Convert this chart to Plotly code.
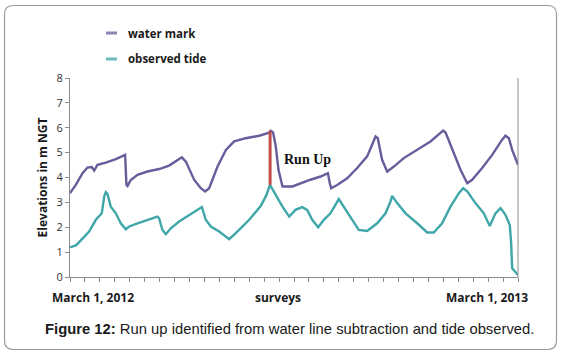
import plotly.graph_objects as go

# ---- data (survey index 0..300, elevations in m NGT) ----
water_t = [0, 3.9, 8.4, 11.7, 14.6, 16.2, 18.4, 24, 30.7, 36.3, 36.9, 37.8, 38.5, 40.7, 45.2, 51.9, 59.7,
           66.4, 72, 74.9, 77.6, 83.1, 87.6, 90.5, 93.2, 98.8, 104.4, 109.9, 117.7, 126.7, 132.9, 134.5,
           136, 137.8, 139.6, 142.3, 149, 154.4, 161, 167.8, 172.7, 174, 174.9, 178.9, 185.6, 192.3,
           199, 202.3, 204.6, 206.1, 209, 212.4, 216.9, 223.5, 232.5, 241.4, 248.1, 249.9, 251.5, 257,
           261.5, 266, 269.3, 276, 282.7, 289.4, 291.6, 293.9, 296.1, 300]
water_v = [3.37, 3.7, 4.17, 4.4, 4.42, 4.28, 4.51, 4.6, 4.74, 4.9, 4.91, 3.7, 3.66, 3.9, 4.11, 4.24, 4.34,
           4.48, 4.71, 4.81, 4.64, 3.91, 3.57, 3.44, 3.57, 4.44, 5.11, 5.45, 5.58, 5.68, 5.79, 5.88,
           5.81, 5.25, 4.31, 3.64, 3.64, 3.77, 3.91, 4.04, 4.17, 3.77, 3.57, 3.7, 3.97, 4.38,
           4.85, 5.32, 5.65, 5.58, 4.71, 4.24, 4.44, 4.78, 5.11, 5.45, 5.79, 5.89, 5.81, 4.98,
           4.31, 3.77, 3.91, 4.38, 4.91, 5.52, 5.68, 5.58, 5.11, 4.51]

tide_t = [0, 1.7, 4.4, 8.4, 12.8, 17.3, 21.3, 22.9, 24, 25.1, 27.3, 30.7, 34, 37.4, 39.6, 45.2, 53, 58.6,
          59.7, 61.9, 64.2, 67.5, 73.1, 79.8, 86.5, 88.3, 90.9, 94.3, 99.9, 106.6, 111, 120, 127.8,
          131.6, 133.9, 137.8, 142.3, 146.8, 151, 155.5, 158.8, 162.2, 166.2, 170, 174.4, 180, 183.4,
          189, 193.4, 199, 205.7, 211.3, 214.6, 215.7, 219.1, 224.7, 232.5, 239.2, 243.6, 249.2,
          254.8, 260.4, 263.3, 266, 271.5, 277.1, 281.1, 284.9, 288.3, 291.6, 294.5, 295.4, 296.1,
          298.3, 300]
tide_v = [1.2, 1.22, 1.29, 1.56, 1.83, 2.3, 2.56, 3.23, 3.41, 3.34, 2.83, 2.56, 2.16, 1.92, 2.03, 2.16, 2.32, 2.43,
          2.36, 1.89, 1.72, 1.96, 2.23, 2.5, 2.77, 2.81, 2.3, 2.03, 1.83, 1.52, 1.76, 2.3, 2.86,
          3.3, 3.7, 3.3, 2.83, 2.43, 2.7, 2.81, 2.7, 2.3, 2.0, 2.3, 2.56, 3.13, 2.83,
          2.3, 1.89, 1.85, 2.16, 2.56, 3.03, 3.26, 2.97, 2.56, 2.16, 1.79, 1.79, 2.16,
          2.83, 3.37, 3.57, 3.44, 2.97, 2.56, 2.05, 2.56, 2.77, 2.5, 2.09, 1.36, 0.35,
          0.19, 0.08]

runup_t = [134, 134]
runup_v = [3.7, 5.88]

series_names = ["water mark", "observed tide"]
x_labels = ["March 1, 2012", "surveys", "March 1, 2013"]
x_label_pos = [15.5, 139, 279]
y_title = "Elevations in m NGT"
caption_bold = "Figure 12:"
caption_text = " Run up identified from water line subtraction and tide observed."

PURPLE = "#6a5b9b"
TEAL = "#3fa6a9"

fig = go.Figure()
fig.add_trace(go.Scatter(x=water_t, y=water_v, mode="lines", name=series_names[0],
                         line=dict(color=PURPLE, width=2.4), showlegend=False))
fig.add_trace(go.Scatter(x=tide_t, y=tide_v, mode="lines", name=series_names[1],
                         line=dict(color=TEAL, width=2.4), showlegend=False))
fig.add_trace(go.Scatter(x=runup_t, y=runup_v, mode="lines", name="Run Up",
                         line=dict(color="#c0504d", width=3), showlegend=False))

W, H = 561, 355
L, R, T, B = 70, 43, 78, 78
pw, ph = W - L - R, H - T - B


def px(xp):
    return (xp - L) / pw


def py(yp):
    return 1 - (yp - T) / ph


shapes = []
# outer rounded frame
x0, x1, y0, y1, r = 4.5, 556.5, 5.5, 349.5, 9
path = (f"M {px(x0 + r)},{py(y0)} L {px(x1 - r)},{py(y0)} Q {px(x1)},{py(y0)} {px(x1)},{py(y0 + r)} "
        f"L {px(x1)},{py(y1 - r)} Q {px(x1)},{py(y1)} {px(x1 - r)},{py(y1)} "
        f"L {px(x0 + r)},{py(y1)} Q {px(x0)},{py(y1)} {px(x0)},{py(y1 - r)} "
        f"L {px(x0)},{py(y0 + r)} Q {px(x0)},{py(y0)} {px(x0 + r)},{py(y0)} Z")
shapes.append(dict(type="path", xref="paper", yref="paper", path=path,
                   line=dict(color="#9a9a9a", width=1.2), layer="below"))
# right border of plot area
shapes.append(dict(type="line", xref="paper", yref="paper", x0=1, x1=1, y0=0, y1=1,
                   line=dict(color="#8c8c8c", width=1)))
# legend samples
legend_y = [33, 59]
for c, yy in zip([PURPLE, TEAL], legend_y):
    shapes.append(dict(type="line", xref="paper", yref="paper", x0=px(106), x1=px(117),
                       y0=py(yy), y1=py(yy), line=dict(color=c, width=3), opacity=0.75))

annotations = []
for name, yy in zip(series_names, legend_y):
    annotations.append(dict(xref="paper", yref="paper", x=px(126), y=py(yy), text=f"<b>{name}</b>",
                            showarrow=False, xanchor="left", yanchor="middle",
                            font=dict(family="Open Sans", size=11.5, color="#1a1a1a")))
for lab, xp in zip(x_labels, x_label_pos):
    annotations.append(dict(xref="x", yref="paper", x=xp, y=py(297), text=f"<b>{lab}</b>",
                            showarrow=False, xanchor="center", yanchor="middle",
                            font=dict(family="Open Sans", size=12, color="#1a1a1a")))
annotations.append(dict(xref="paper", yref="paper", x=px(307), y=py(159), text="<b>Run Up</b>",
                        showarrow=False, xanchor="center", yanchor="middle",
                        font=dict(family="Liberation Serif", size=14, color="#111111")))
annotations.append(dict(xref="paper", yref="paper", x=px(289), y=py(329),
                        text=f"<b>{caption_bold}</b>{caption_text}",
                        showarrow=False, xanchor="center", yanchor="middle",
                        font=dict(family="Liberation Sans", size=14.8, color="#1a1a1a")))

fig.update_layout(
    width=W, height=H,
    margin=dict(l=L, r=R, t=T, b=B, pad=0),
    paper_bgcolor="white", plot_bgcolor="white",
    shapes=shapes, annotations=annotations,
    xaxis=dict(range=[0, 300], tick0=0, dtick=10, showticklabels=False, ticks="outside",
               ticklen=4, tickcolor="#8c8c8c", showline=True, linecolor="#8c8c8c", linewidth=1,
               showgrid=False, zeroline=False, fixedrange=True),
    yaxis=dict(range=[0, 8], tick0=0, dtick=1, ticks="outside", ticklen=4, tickcolor="#8c8c8c",
               showline=True, linecolor="#8c8c8c", linewidth=1, showgrid=False, zeroline=False,
               tickfont=dict(family="Open Sans", size=11, color="#333333"),
               title=dict(text=f"<b>{y_title}</b>", standoff=6,
                          font=dict(family="Open Sans", size=12, color="#1a1a1a")),
               fixedrange=True),
)

fig.write_html("out.html", config={"displayModeBar": False},
               post_script="document.body.style.margin='0';document.body.style.overflow='hidden';")
